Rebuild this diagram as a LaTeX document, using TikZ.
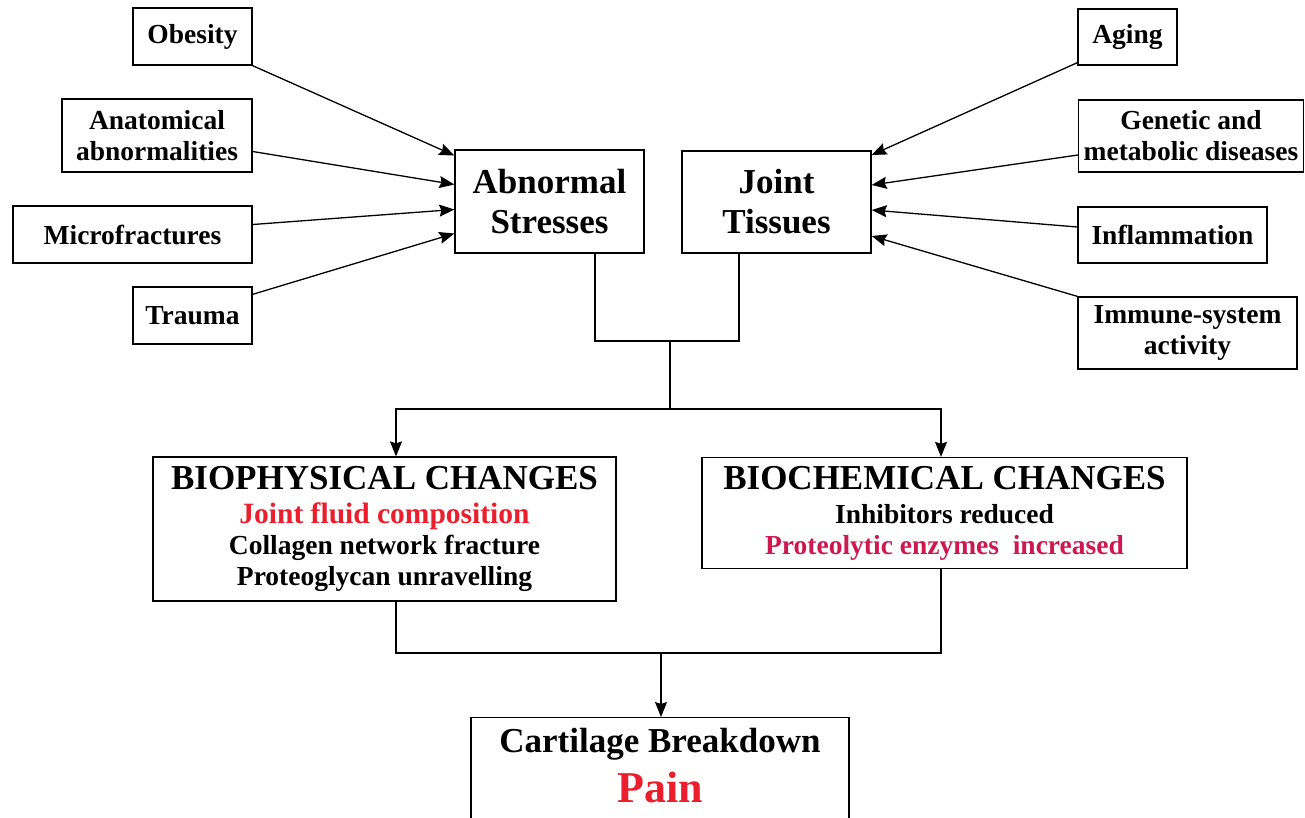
\documentclass[tikz,border=0pt]{standalone}
\usepackage{fontspec}
\setmainfont{Liberation Serif}
\usetikzlibrary{arrows.meta,calc}

\definecolor{jointred}{RGB}{234,30,44}
\definecolor{enzred}{RGB}{206,24,80}

\begin{document}
\begin{tikzpicture}[x=1pt,y=-1pt,>={Stealth[length=15pt,width=12pt,inset=2pt]},line width=1.3pt,
	box/.style={draw,line width=1.3pt,inner sep=0pt,align=center,
		font=\bfseries\fontsize{27.5}{31}\selectfont},
	bigbox/.style={box,font=\bfseries\fontsize{35}{40}\selectfont},
	changebox/.style={box,font=\bfseries\fontsize{27.5}{31}\selectfont}]

\def\head#1{{\fontsize{35}{40}\selectfont #1}\\[3pt]}

\clip (0,0) rectangle (1305,817);
\fill[white] (0,0) rectangle (1305,817);

% left side
\node[box,minimum width=119pt,minimum height=57pt] (obesity) at (192.5,36.5) {Obesity};
\node[box,minimum width=190pt,minimum height=73pt] (anat) at (157,135.5) {Anatomical\\abnormalities};
\node[box,minimum width=239pt,minimum height=57pt] (micro) at (132.5,234.5) {Microfractures};
\node[box,minimum width=119pt,minimum height=57pt] (trauma) at (192.5,315.5) {Trauma};

% right side
\node[box,minimum width=99pt,minimum height=56pt] (aging) at (1127.5,37) {Aging};
\node[box,minimum width=225pt,minimum height=72pt] (genetic) at (1191,136) {Genetic and\\metabolic diseases};
\node[box,minimum width=189pt,minimum height=56pt] (inflam) at (1172.5,235) {Inflammation};
\node[box,minimum width=219pt,minimum height=72pt] (immune) at (1187.5,333) {Immune-system\\activity};

% middle
\node[bigbox,minimum width=189pt,minimum height=103pt] (stress) at (549.5,201.5) {Abnormal\\Stresses};
\node[bigbox,minimum width=189pt,minimum height=102pt] (tissue) at (776.5,202) {Joint\\Tissues};

\node[changebox,minimum width=463pt,minimum height=144pt] (phys) at (384.5,529) {\head{BIOPHYSICAL CHANGES}
	{\color{jointred}\fontsize{29.5}{31}\selectfont Joint fluid composition}\\
	Collagen network fracture\\
	Proteoglycan unravelling};
\node[changebox,minimum width=485pt,minimum height=111pt] (chem) at (944.5,513) {\head{BIOCHEMICAL CHANGES}
	Inhibitors reduced\\
	{\color{enzred}Proteolytic enzymes\ \ increased}};

\node[draw,line width=1.3pt,minimum width=378pt,minimum height=130pt,anchor=north] (cart) at (660,717) {};
\node[font=\bfseries\fontsize{35}{40}\selectfont,inner sep=0pt] (carttxt) at (660,744) {Cartilage Breakdown};
\node[font=\bfseries\fontsize{44}{50}\selectfont,text=jointred,inner sep=0pt] (paintxt) at (660,787) {Pain};

% arrows in
\draw[->] (obesity.south east) -- ([yshift=46pt]stress.west);
\draw[->] ([yshift=-16pt]anat.east) -- ([yshift=17pt]stress.west);
\draw[->] ([yshift=10pt]micro.east) -- ([yshift=-8pt]stress.west);
\draw[->] ([yshift=-8pt]trauma.north east) -- ([yshift=-32pt]stress.west);

\draw[->] ([yshift=3pt]aging.south west) -- ([yshift=47pt]tissue.east);
\draw[->] ([yshift=-19pt]genetic.west) -- ([yshift=17pt]tissue.east);
\draw[->] ([yshift=8pt]inflam.west) -- ([yshift=-8pt]tissue.east);
\draw[->] (immune.north west) -- ([yshift=-34pt]tissue.east);

% join and split
\coordinate (join) at (670,341);
\coordinate (split) at (670,409);
\draw ([xshift=45.5pt]stress.south) |- (join) -| ([xshift=-37.5pt]tissue.south);
\draw (join) -- (split);
\draw[->] (split) -| ([xshift=11.5pt]phys.north);
\draw[->] (split) -| ([xshift=-3.5pt]chem.north);

\coordinate (merge) at (661,653);
\draw ([xshift=11.5pt]phys.south) |- (merge) -| ([xshift=-3.5pt]chem.south);
\draw[->] (merge) -- (merge |- cart.north);

\end{tikzpicture}
\end{document}
